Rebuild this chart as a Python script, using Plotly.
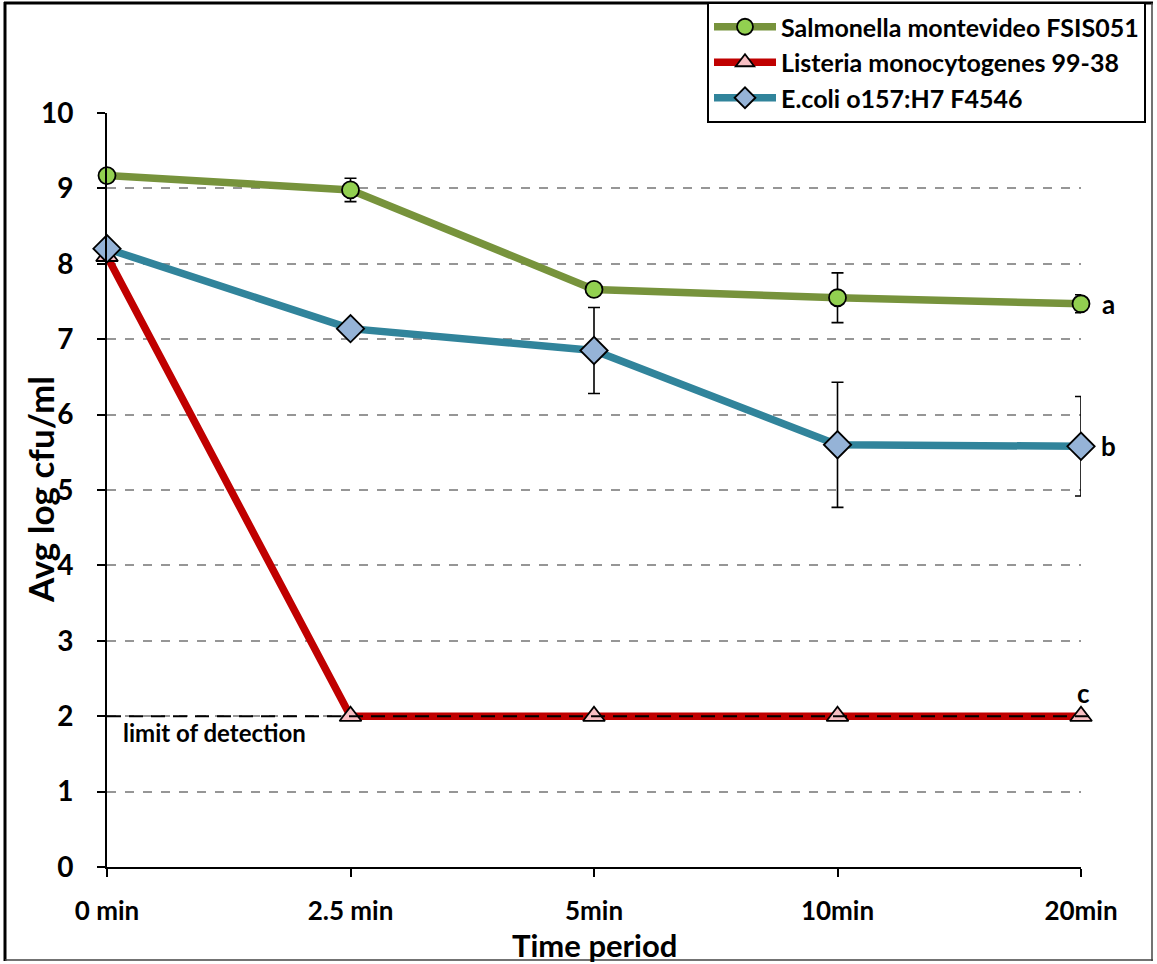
import plotly.graph_objects as go

categories = ["0 min", "2.5 min", "5min", "10min", "20min"]
salmonella = [9.17, 8.98, 7.66, 7.55, 7.47]
salmonella_err = [0.02, 0.155, 0.02, 0.33, 0.12]
listeria = [8.1, 2.0, 2.0, 2.0, 2.0]
ecoli = [8.2, 7.14, 6.85, 5.6, 5.58]
ecoli_err = [0.02, 0.06, 0.57, 0.83, 0.66]
detection_limit = 2.0
sig_labels = ["a", "b", "c"]

W, H = 1157, 964
L, R, T, B = 107, 76, 113, 97
pw, ph = W - L - R, H - T - B

def px(x):
    return (x - L) / pw

def py(y):
    return (H - B - y) / ph

xs = list(range(len(categories)))
FONT = "Lato"

fig = go.Figure()
fig.add_trace(go.Scatter(
    x=xs, y=salmonella, name="Salmonella montevideo FSIS051", mode="lines+markers",
    line=dict(color="#77933C", width=7.5),
    marker=dict(symbol="circle", size=17, color="#92D050", line=dict(color="black", width=1.8)),
    error_y=dict(type="data", array=salmonella_err, color="black", thickness=1.6, width=6),
    cliponaxis=False, legendgroup="s"))
fig.add_trace(go.Scatter(
    x=xs, y=listeria, name="Listeria monocytogenes 99-38", mode="lines+markers",
    line=dict(color="#C00000", width=7.5),
    marker=dict(symbol="triangle-up", size=19, color="#F7BFC3", line=dict(color="black", width=1.8)),
    cliponaxis=False, legendgroup="l"))
fig.add_trace(go.Scatter(
    x=xs, y=ecoli, name="E.coli o157:H7 F4546", mode="lines+markers",
    line=dict(color="#31849B", width=7.5),
    marker=dict(symbol="diamond", size=21, color="#95B3D7", line=dict(color="black", width=1.8)),
    error_y=dict(type="data", array=ecoli_err, color="black", thickness=1.6, width=6),
    cliponaxis=False, legendgroup="e"))

shapes = [
    # limit of detection
    dict(type="line", xref="paper", yref="y", x0=0, x1=px(1097), y0=detection_limit, y1=detection_limit,
         line=dict(color="black", width=2, dash="14px,8px"), layer="above"),
    # outer frame
    dict(type="line", xref="paper", yref="paper", x0=px(5), x1=px(5), y0=py(2), y1=py(961),
         line=dict(color="black", width=3)),
    dict(type="line", xref="paper", yref="paper", x0=px(4), x1=px(1153), y0=py(3), y1=py(3),
         line=dict(color="black", width=3)),
    dict(type="line", xref="paper", yref="paper", x0=px(1152), x1=px(1152), y0=py(3), y1=py(961),
         line=dict(color="#444", width=1.5)),
    dict(type="line", xref="paper", yref="paper", x0=px(5), x1=px(1153), y0=py(960), y1=py(960),
         line=dict(color="#444", width=1.5)),
]

annotations = [
    dict(x=px(1108), y=salmonella[-1], xref="paper", yref="y", text="<b>" + sig_labels[0] + "</b>",
         showarrow=False, font=dict(size=26, color="black", family=FONT), xanchor="center", yanchor="middle"),
    dict(x=px(1108), y=ecoli[-1], xref="paper", yref="y", text="<b>" + sig_labels[1] + "</b>",
         showarrow=False, font=dict(size=26, color="black", family=FONT), xanchor="center", yanchor="middle"),
    dict(x=px(1083), y=2.31, xref="paper", yref="y", text="<b>" + sig_labels[2] + "</b>",
         showarrow=False, font=dict(size=26, color="black", family=FONT), xanchor="center", yanchor="middle"),
    dict(x=px(121), y=1.79, xref="paper", yref="y", text="<b>limit of detection</b>",
         showarrow=False, font=dict(size=24, color="black", family=FONT), xanchor="left", yanchor="middle"),
    dict(x=px(40), y=py(490), xref="paper", yref="paper", text="<b>Avg log cfu/ml</b>",
         showarrow=False, textangle=-90, xanchor="center", yanchor="middle",
         font=dict(size=35, color="black", family=FONT)),
    dict(x=px(594), y=py(945), xref="paper", yref="paper", text="<b>Time period</b>",
         showarrow=False, xanchor="center", yanchor="middle",
         font=dict(size=31, color="black", family=FONT)),
]

fig.update_layout(
    width=W, height=H,
    margin=dict(l=L, r=R, t=T, b=B, autoexpand=False),
    paper_bgcolor="white", plot_bgcolor="white",
    font=dict(family=FONT, color="black"),
    shapes=shapes, annotations=annotations,
    showlegend=True,
    legend=dict(x=px(707), y=py(2), xanchor="left", yanchor="top",
                bgcolor="white", bordercolor="black", borderwidth=2,
                font=dict(size=25, family=FONT, color="black", weight="bold"),
                traceorder="grouped", tracegroupgap=0, itemwidth=62),
    xaxis=dict(range=[0, 4], tickmode="array", tickvals=xs,
               ticktext=["<b>" + c + "</b>" for c in categories],
               showgrid=False, zeroline=False, showline=True, linecolor="black", linewidth=2,
               ticks="outside", ticklen=8, tickwidth=2, tickcolor="black",
               tickfont=dict(size=26, family=FONT, color="black"), ticklabelstandoff=12),
    yaxis=dict(range=[0, 10], tickmode="array", tickvals=list(range(0, 11)),
               ticktext=["<b>%d</b>" % v for v in range(0, 11)],
               showgrid=True, gridcolor="#969696", griddash="dash", gridwidth=1.5,
               zeroline=False, showline=True, linecolor="black", linewidth=2,
               ticks="outside", ticklen=8, tickwidth=2, tickcolor="black",
               tickfont=dict(size=28, family=FONT, color="black"), ticklabelstandoff=18),
)

fig.write_html("out.html", config={"displayModeBar": False},
               post_script="document.body.style.margin='0';document.body.style.overflow='hidden';")
